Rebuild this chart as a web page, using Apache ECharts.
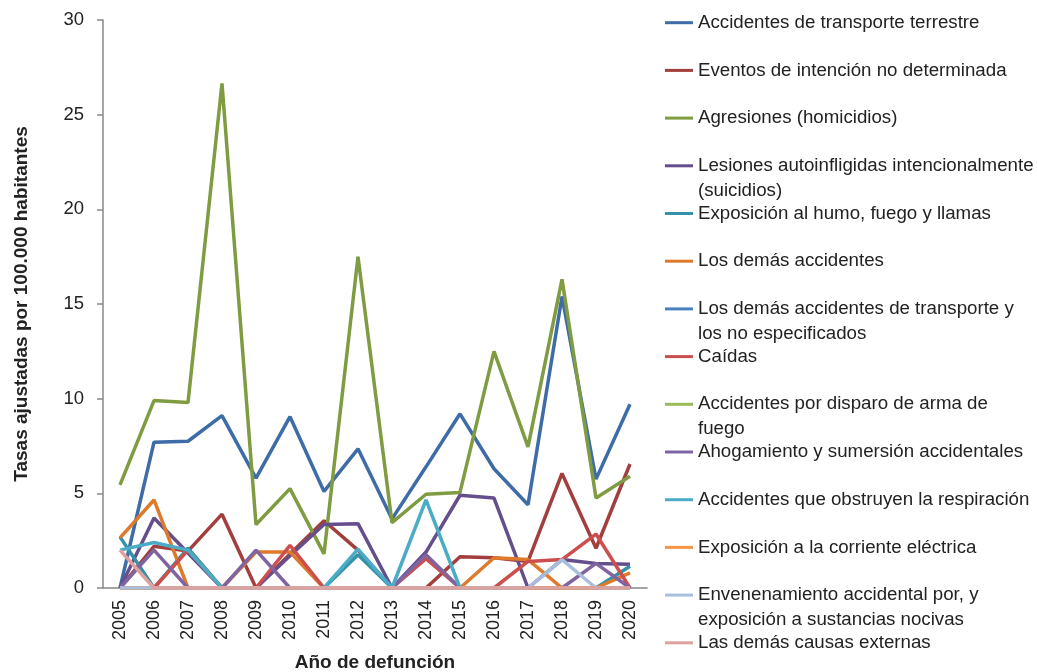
<!DOCTYPE html>
<html>
<head>
<meta charset="utf-8">
<script src="https://cdn.jsdelivr.net/npm/echarts@6.0.0/dist/echarts.min.js"></script>
<style>
html,body{margin:0;padding:0;background:#fff;}
#chart{width:1037px;height:672px;}
</style>
</head>
<body>
<div id="chart"></div>
<script>
// años
const years = ['2005','2006','2007','2008','2009','2010','2011','2012','2013','2014','2015','2016','2017','2018','2019','2020'];
const yTicks = [0, 5, 10, 15, 20, 25, 30];

// tasas por causa
const transporteTerrestre   = [0, 7.7, 7.75, 9.1, 5.8, 9.05, 5.1, 7.35, 3.65, 6.4, 9.2, 6.3, 4.4, 15.4, 5.75, 9.7];
const intencionNoDet        = [0, 2.2, 1.95, 3.9, 0, 1.8, 3.55, 2.0, 0, 0, 1.65, 1.6, 1.4, 6.05, 2.1, 6.55];
const agresiones            = [5.45, 9.9, 9.8, 26.65, 3.35, 5.25, 1.8, 17.5, 3.45, 4.95, 5.05, 12.5, 7.45, 16.3, 4.75, 5.9];
const lesionesAutoinf       = [0, 3.7, 1.85, 0, 0, 1.7, 3.35, 3.4, 0, 1.9, 4.9, 4.75, 0, 1.5, 1.3, 1.25];
const humoFuego             = [2.7, 0, 2.1, 0, 0, 0, 0, 1.75, 0, 0, 0, 0, 0, 0, 0, 1.15];
const demasAccidentes       = [2.65, 4.65, 0, 0, 1.9, 1.9, 0, 0, 0, 0, 0, 1.6, 1.5, 0, 0, 0.8];
const demasTransporte       = [0, 0, 0, 0, 0, 0, 0, 0, 0, 0, 0, 0, 0, 0, 0, 0];
const caidas                = [0, 0, 2.0, 0, 0, 2.25, 0, 0, 0, 1.55, 0, 0, 1.4, 1.5, 2.85, 0];
const disparoArma           = [0, 0, 0, 0, 0, 0, 0, 0, 0, 0, 0, 0, 0, 0, 0, 0];
const ahogamiento           = [0, 2.0, 0, 0, 2.0, 0, 0, 0, 0, 1.75, 0, 0, 0, 0, 1.3, 0];
const obstruyen             = [2.0, 2.4, 2.0, 0, 0, 0, 0, 2.05, 0, 4.65, 0, 0, 0, 0, 0, 0];
const corriente             = [0, 0, 0, 0, 0, 0, 0, 0, 0, 0, 0, 0, 0, 0, 0, 0];
const envenenamiento        = [0, 0, 0, 0, 0, 0, 0, 0, 0, 0, 0, 0, 0, 1.5, 0, 0];
const demasCausas           = [2.0, 0, 0, 0, 0, 0, 0, 0, 0, 0, 0, 0, 0, 0, 0, 0];

const names = [
  'Accidentes de transporte terrestre',
  'Eventos de intención no determinada',
  'Agresiones (homicidios)',
  'Lesiones autoinfligidas intencionalmente (suicidios)',
  'Exposición al humo, fuego y llamas',
  'Los demás accidentes',
  'Los demás accidentes de transporte y los no especificados',
  'Caídas',
  'Accidentes por disparo de arma de fuego',
  'Ahogamiento y sumersión accidentales',
  'Accidentes que obstruyen la respiración',
  'Exposición a la corriente eléctrica',
  'Envenenamiento accidental por, y exposición a sustancias nocivas',
  'Las demás causas externas'
];
const values = [transporteTerrestre, intencionNoDet, agresiones, lesionesAutoinf, humoFuego, demasAccidentes,
  demasTransporte, caidas, disparoArma, ahogamiento, obstruyen, corriente, envenenamiento, demasCausas];

// textos de leyenda en dos renglones
const wrapped = {
  'Lesiones autoinfligidas intencionalmente (suicidios)': ['Lesiones autoinfligidas intencionalmente', '(suicidios)'],
  'Los demás accidentes de transporte y los no especificados': ['Los demás accidentes de transporte y', 'los no especificados'],
  'Accidentes por disparo de arma de fuego': ['Accidentes por disparo de arma de', 'fuego'],
  'Envenenamiento accidental por, y exposición a sustancias nocivas': ['Envenenamiento accidental por, y', 'exposición a sustancias nocivas']
};

const colors = ['#3D6CA6','#A23F3C','#7F9C42','#644E8C','#3591A8','#DE7A2C',
  '#4A80C0','#CB4F4C','#9BBB59','#8064A2','#4BACC6','#F79646','#A9BEDD','#DDA19F'];

const font = 'Liberation Sans, Arial, sans-serif';
const lineH = 25;

const chart = echarts.init(document.getElementById('chart'));

const legends = names.map(function(n, i){
  const center = 22.7 + i * 47.7;
  const two = wrapped[n];
  return {
    data: [n],
    left: 665,
    top: two ? center - 1.5 * lineH : center - 0.5 * lineH,
    orient: 'vertical',
    padding: 0,
    itemWidth: 28,
    itemHeight: 3,
    icon: 'rect',
    selectedMode: false,
    formatter: function(name){
      const w = wrapped[name];
      return w ? '\n' + w[0] + '\n' + w[1] : name;
    },
    textStyle: {fontSize: 18.7, lineHeight: lineH, color: '#222', fontFamily: font}
  };
});

const option = {
  animation: false,
  color: colors,
  textStyle: {fontFamily: font},
  grid: {left: 103, right: 390, top: 20, bottom: 84, outerBoundsMode: 'none'},
  legend: legends,
  xAxis: {
    type: 'category',
    data: years,
    name: 'Año de defunción',
    nameLocation: 'middle',
    nameGap: 65,
    nameTextStyle: {fontSize: 19, fontWeight: 'bold', color: '#222', fontFamily: font},
    axisLine: {lineStyle: {color: '#888', width: 1.5}},
    axisTick: {length: 7, lineStyle: {color: '#888', width: 1.5}},
    axisLabel: {rotate: 90, fontSize: 18, margin: 12, color: '#222', fontFamily: font}
  },
  yAxis: {
    type: 'value',
    min: yTicks[0],
    max: yTicks[yTicks.length - 1],
    interval: 5,
    name: 'Tasas ajustadas por 100.000 habitantes',
    nameLocation: 'middle',
    nameGap: 72,
    nameTextStyle: {fontSize: 19, fontWeight: 'bold', color: '#222', fontFamily: font},
    splitLine: {show: false},
    axisLine: {show: true, lineStyle: {color: '#888', width: 1.5}},
    axisTick: {show: true, length: 6, lineStyle: {color: '#888', width: 1.5}},
    axisLabel: {fontSize: 18.5, margin: 19, color: '#222', fontFamily: font}
  },
  series: names.map(function(n, i){
    return {
      name: n,
      type: 'line',
      data: values[i],
      symbol: 'none',
      lineStyle: {width: 3.5}
    };
  })
};

chart.setOption(option);
</script>
</body>
</html>
